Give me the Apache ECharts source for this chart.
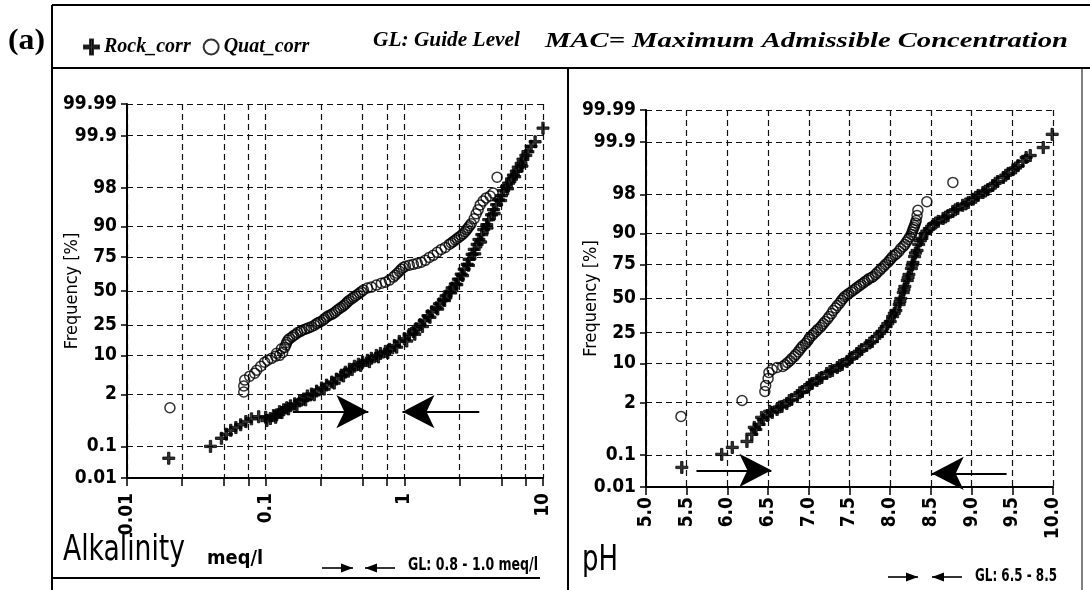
<!DOCTYPE html>
<html><head><meta charset="utf-8">
<script src="https://cdn.jsdelivr.net/npm/echarts@6/dist/echarts.min.js"></script>
<style>html,body{margin:0;padding:0;background:#fff}#c{width:1090px;height:590px}</style>
</head><body><div id="c"></div>
<script>
// ---------- data ----------
const freqTicks = [0.01, 0.1, 2, 10, 25, 50, 75, 90, 98, 99.9, 99.99];
const freqTickLabels = ['0.01', '0.1', '2', '10', '25', '50', '75', '90', '98', '99.9', '99.99'];
const alkGridValues = [0.01, 0.025, 0.05, 0.075, 0.1, 0.25, 0.5, 0.75, 1, 2.5, 5, 7.5, 10];
const alkTickLabels = [0.01, 0.1, 1, 10];
const phMin = 5.0, phMax = 10.0, phStep = 0.5;

// [alkalinity meq/l, cumulative frequency %]
const alkRock = [
[0.02,0.044],[0.04,0.10],[0.048,0.17],[0.052,0.22],[0.056,0.28],[0.061,0.33],[0.066,0.39],[0.072,0.47],[0.079,0.55],[0.089,0.62],[0.1,0.60],
[0.102,0.50],[0.108,0.56],[0.114,0.66],[0.120,0.69],[0.126,0.82],[0.135,0.91],[0.142,1.01],[0.151,1.12],[0.162,1.24],[0.176,1.44],[0.188,1.59],[0.20,1.85],[0.214,2.03],[0.233,2.33],[0.253,2.69],[0.275,3.07],[0.30,3.51],[0.324,3.99],[0.352,4.72],[0.376,5.33],[0.402,6.0],[0.437,6.73],[0.467,7.26],[0.50,7.82],[0.542,8.41],[0.579,9.03],[0.629,10.0],[0.673,10.7],[0.731,11.5],[0.78,12.3],[0.85,13.9],[0.92,15.8],[1.0,17.2],[1.085,19.3],[1.16,21.0],[1.22,22.7],[1.30,25.2],[1.39,27.7],[1.48,31.1],[1.58,34.0],[1.70,36.9],[1.79,39.9],[1.91,43.0],[2.0,46.1],[2.11,49.2],[2.21,52.4],[2.33,55.5],[2.45,59.3],[2.57,63.1],[2.70,66.8],[2.84,70.2],[2.93,73.6],[3.08,76.7],[3.19,79.6],[3.35,82.3],[3.45,84.7],[3.62,86.9],[3.74,88.9],[3.93,90.6],[4.06,92.2],[4.26,93.5],[4.40,94.7],[4.63,95.7],[4.78,96.5],[5.02,97.1],[5.20,97.7],[5.45,98.1],[5.65,98.4],[5.93,98.7],[6.12,98.94],[6.42,99.14],[6.63,99.31],[6.95,99.44],[7.17,99.56],[7.52,99.65],[7.78,99.72],[8.2,99.80],[8.77,99.85],[10.0,99.94],
[0.118,0.60],[0.131,0.78],[0.146,0.95],[0.168,1.18],[0.194,1.52],[0.224,1.95],[0.264,2.55],[0.312,3.35],[0.364,4.55],[0.42,5.9],[0.485,6.95],[0.56,8.0],[0.65,9.5],[0.76,11.0],[0.88,13.2],[1.04,16.0],[1.19,19.5],[1.35,24.0],[1.53,30.0],[1.74,36.0],[1.95,42.5],[2.16,48.5],[2.39,55.0],[2.63,62.0],[2.90,69.5],[3.22,77.0],[3.55,83.5],[3.95,89.5],[4.45,93.8],[4.95,96.4],[5.55,97.9],[6.25,98.85],[7.05,99.35]
];
const alkQuat = [
[0.0204,1.01],[0.0695,2.23],[0.0695,2.94],[0.0706,3.82],[0.0767,4.52],[0.0833,5.11],[0.0862,5.76],[0.0921,6.73],[0.0984,7.82],[0.1034,8.41],[0.1104,9.03],[0.118,9.70],[0.126,10.03],[0.1326,11.1],[0.137,13.1],[0.1416,15.3],[0.1488,17.2],[0.159,18.8],[0.170,20.4],[0.1816,21.6],[0.197,22.7],[0.214,23.9],[0.2328,25.8],[0.2487,27.1],[0.2657,29.1],[0.2839,31.1],[0.3034,32.5],[0.324,34.7],[0.3465,36.9],[0.370,39.1],[0.389,41.4],[0.4156,43.8],[0.444,46.1],[0.4746,48.4],[0.507,50.8],[0.542,52.4],[0.579,53.1],[0.629,54.7],[0.683,56.2],[0.730,57.0],[0.780,58.6],[0.833,60.9],[0.890,63.8],[0.951,66.8],[1.017,68.9],[1.086,69.6],[1.161,70.2],[1.240,70.9],[1.325,71.6],[1.416,72.9],[1.513,74.8],[1.616,76.1],[1.727,77.9],[1.845,79.6],[1.972,80.7],[2.107,82.3],[2.251,83.7],[2.406,85.2],[2.571,86.5],[2.747,88.1],[2.887,89.6],[3.034,90.97],[3.188,92.46],[3.296,93.76],[3.407,94.67],[3.522,95.66],[3.701,96.34],[3.890,96.79],[4.156,97.06],[4.368,97.43],[4.668,98.82],
[0.12,10.8],[0.13,12.5],[0.14,14.2],[0.145,16.5],[0.155,18.0],[0.165,19.5],[0.178,21.0],[0.19,22.2],[0.205,23.3],[0.225,24.8],[0.24,26.5],[0.26,28.0],[0.275,30.2],[0.295,31.8],[0.315,33.5],[0.335,35.8],[0.36,38.0],[0.38,40.2],[0.40,42.6],[0.43,45.0],[0.46,47.2],[0.49,49.5],[0.86,62.3],[0.92,65.2],[0.98,67.9],[2.18,83.0],[2.33,84.5],[2.49,85.9],[2.66,87.3],[2.82,88.9],[2.96,90.3]
];
// [pH, cumulative frequency %]
const phRock = [
[5.44,0.043],[5.93,0.105],[6.06,0.165],[6.24,0.24],[6.30,0.37],[6.35,0.49],[6.39,0.65],[6.44,0.85],[6.49,1.05],[6.55,1.23],[6.61,1.43],[6.67,1.66],[6.73,1.92],[6.79,2.32],[6.86,2.79],[6.92,3.33],[6.98,3.96],[7.04,4.68],[7.10,5.29],[7.16,5.96],[7.22,6.96],[7.29,7.78],[7.35,8.68],[7.41,9.65],[7.47,10.7],[7.53,12.2],[7.59,13.9],[7.65,15.7],[7.71,17.7],[7.78,19.8],[7.84,22.7],[7.90,25.8],[7.95,29.0],[8.00,32.5],[8.03,36.1],[8.07,40.6],[8.11,45.3],[8.13,50.0],[8.16,54.7],[8.18,59.4],[8.21,63.9],[8.23,68.2],[8.26,72.3],[8.28,76.1],[8.30,79.6],[8.33,82.8],[8.35,85.7],[8.39,88.2],[8.43,90.0],[8.48,91.6],[8.53,92.8],[8.59,93.6],[8.65,94.3],[8.71,94.9],[8.77,95.7],[8.83,96.2],[8.89,96.7],[8.96,97.1],[9.02,97.5],[9.08,97.9],[9.14,98.17],[9.20,98.42],[9.26,98.71],[9.32,98.95],[9.39,99.15],[9.45,99.32],[9.51,99.45],[9.57,99.56],[9.63,99.66],[9.67,99.73],[9.72,99.76],[9.88,99.855],[9.99,99.94],
[6.33,0.55],[6.42,0.95],[6.52,1.30],[6.64,1.62],[6.76,2.20],[6.89,3.15],[7.01,4.45],[7.13,5.75],[7.26,7.50],[7.38,9.30],[7.50,11.6],[7.62,14.9],[7.75,19.0],[7.87,24.5],[7.97,31.0],[8.05,38.5],[8.12,47.5],[8.17,57.0],[8.22,66.0],[8.27,74.5],[8.31,81.5],[8.37,87.3],[8.45,90.8],[8.56,93.2],[8.68,94.6],[8.80,96.0],[8.93,96.9],[9.05,97.7],[9.17,98.3],[9.29,98.85],[9.42,99.25],[9.54,99.50]
];
const phQuat = [
[5.43,1.0],[6.18,2.21],[6.46,3.33],[6.47,4.31],[6.50,5.73],[6.51,7.22],[6.55,8.07],[6.61,8.68],[6.68,9.0],[6.74,10.3],[6.79,11.8],[6.84,13.5],[6.89,15.7],[6.93,17.7],[6.98,19.8],[7.01,22.1],[7.06,24.5],[7.11,27.1],[7.16,29.7],[7.20,32.5],[7.25,36.1],[7.30,40.6],[7.35,44.5],[7.40,48.4],[7.44,51.6],[7.49,53.9],[7.54,56.3],[7.59,58.6],[7.64,60.9],[7.69,63.1],[7.74,65.3],[7.79,66.8],[7.84,69.6],[7.89,72.3],[7.94,74.9],[7.99,77.3],[8.03,79.6],[8.08,81.3],[8.13,83.8],[8.18,85.7],[8.22,87.8],[8.26,89.7],[8.28,91.3],[8.30,92.5],[8.32,93.8],[8.33,94.9],[8.34,95.9],[8.45,97.2],[8.77,98.9],
[6.71,9.6],[6.77,11.0],[6.82,12.6],[6.87,14.6],[6.91,16.7],[6.96,18.7],[7.00,21.0],[7.04,23.3],[7.09,25.8],[7.14,28.4],[7.18,31.1],[7.23,34.3],[7.28,38.3],[7.33,42.5],[7.38,46.4],[7.42,50.0],[7.47,52.8],[7.52,55.1],[7.57,57.4],[7.62,59.8],[7.67,62.0],[7.72,64.2],[7.77,66.0],[7.82,68.2],[7.87,71.0],[7.92,73.6],[7.97,76.1],[8.01,78.4],[8.06,80.5],[8.11,82.5],[8.16,84.8],[8.20,86.8],[8.24,88.8],[8.27,90.5],[8.29,91.9],[8.31,93.2]
];
// guide-level arrows: [fromX, fromFreq, toX, toFreq]
const alkGuideArrows = [[0.157, 0.82, 0.55, 0.82], [3.47, 0.82, 0.97, 0.82]];
const phGuideArrows = [[5.62, 0.035, 6.54, 0.035], [9.43, 0.028, 8.51, 0.028]];

// ---------- probability (normal quantile) transform ----------
function probit(p) {
  const a=[-3.969683028665376e+01,2.209460984245205e+02,-2.759285104469687e+02,1.383577518672690e+02,-3.066479806614716e+01,2.506628277459239e+00];
  const b=[-5.447609879822406e+01,1.615858368580409e+02,-1.556989798598866e+02,6.680131188771972e+01,-1.328068155288572e+01];
  const c=[-7.784894002430293e-03,-3.223964580411365e-01,-2.400758277161838e+00,-2.549732539343734e+00,4.374664141464968e+00,2.938163982698783e+00];
  const d=[7.784695709041462e-03,3.224671290700398e-01,2.445134137142996e+00,3.754408661907416e+00];
  const pl = 0.02425; let q, r;
  if (p < pl) { q = Math.sqrt(-2*Math.log(p)); return (((((c[0]*q+c[1])*q+c[2])*q+c[3])*q+c[4])*q+c[5])/((((d[0]*q+d[1])*q+d[2])*q+d[3])*q+1); }
  if (p <= 1-pl) { q = p-0.5; r = q*q; return (((((a[0]*r+a[1])*r+a[2])*r+a[3])*r+a[4])*r+a[5])*q/(((((b[0]*r+b[1])*r+b[2])*r+b[3])*r+b[4])*r+1); }
  q = Math.sqrt(-2*Math.log(1-p)); return -(((((c[0]*q+c[1])*q+c[2])*q+c[3])*q+c[4])*q+c[5])/((((d[0]*q+d[1])*q+d[2])*q+d[3])*q+1);
}
const zf = pct => probit(pct / 100);
const freqZ = freqTicks.map(zf);
const zMin = freqZ[0], zMax = freqZ[freqZ.length - 1];
const freqLabel = v => { for (let i = 0; i < freqZ.length; i++) if (Math.abs(freqZ[i] - v) < 1e-6) return freqTickLabels[i]; return ''; };

// ---------- styles ----------
const NARROW = '"Liberation Sans Narrow", "DejaVu Sans Condensed", "Arial Narrow", sans-serif';
const SERIF = '"Liberation Serif", "DejaVu Serif", serif';
const gridLine = { show: true, lineStyle: { color: '#111', width: 1.2, type: [6, 4] } };
const axisLineS = { show: true, onZero: false, lineStyle: { color: '#000', width: 2 } };
const plusPath = 'path://M4,0h2v4h4v2h-4v4h-2v-4h-4v-2h4z';
const rockStyle = { color: '#000', borderColor: '#000', borderWidth: 1 };
const quatStyle = { color: 'rgba(255,255,255,0)', borderColor: '#000', borderWidth: 1.5 };

function yAxisCfg(gi) {
  return {
    type: 'value', gridIndex: gi, min: zMin, max: zMax,
    name: 'Frequency [%]', nameLocation: 'middle', nameRotate: 90, nameGap: 46, nameMoveOverlap: false,
    nameTextStyle: { fontFamily: NARROW, fontSize: 18, color: '#000' },
    axisLine: axisLineS,
    axisTick: { show: true, customValues: freqZ, length: 6, lineStyle: { color: '#000', width: 1.5 } },
    axisLabel: { customValues: freqZ, formatter: freqLabel, fontFamily: NARROW, fontWeight: 'bold', fontSize: 19, color: '#000', margin: 10 },
    splitLine: gridLine
  };
}

const mctx = document.createElement('canvas').getContext('2d');
function fitText(str, fam, size, weight, fstyle, left, cy, width) {
  mctx.font = `${fstyle} ${weight} ${size}px ${fam}`;
  const w = mctx.measureText(str).width || 1;
  return { type: 'text', x: left, y: cy, scaleX: width / w, silent: true, z: 10,
    style: { text: str, fontFamily: fam, fontSize: size, fontWeight: weight, fontStyle: fstyle, fill: '#000',
      align: 'left', verticalAlign: 'middle', textAlign: 'left', textVerticalAlign: 'middle' } };
}
function hline(x1, y1, x2, y2, w) {
  return { type: 'line', silent: true, shape: { x1, y1, x2, y2 }, style: { stroke: '#000', lineWidth: w || 2 } };
}
function keyArrow(x0, x1, y, dir) {
  const tip = dir > 0 ? x1 : x0, base = dir > 0 ? x1 - 12 : x0 + 12;
  return [
    hline(x0, y, x1, y, 1.6),
    { type: 'polygon', silent: true, shape: { points: [[base, y - 4.5], [tip, y], [base, y + 4.5]] }, style: { fill: '#000' } }
  ];
}

const arrowMark = arr => ({
  silent: true, animation: false, symbol: ['none', 'arrow'], symbolSize: [25, 32],
  lineStyle: { color: '#000', width: 2, type: 'solid' }, label: { show: false }, emphasis: { disabled: true },
  data: arr.map(a => [{ coord: [a[0], zf(a[1])] }, { coord: [a[2], zf(a[3])] }])
});

const chart = echarts.init(document.getElementById('c'), null, { renderer: 'canvas' });
chart.setOption({
  animation: false,
  backgroundColor: '#fff',
  legend: {
    data: ['Rock_corr', 'Quat_corr'], left: 78, top: 32, itemWidth: 15, itemHeight: 15, itemGap: 12,
    selectedMode: false,
    textStyle: { fontFamily: SERIF, fontStyle: 'italic', fontWeight: 'bold', fontSize: 20, color: '#000' }
  },
  grid: [
    { left: 127, top: 104, width: 416, height: 374, containLabel: false, outerBoundsMode: 'none' },
    { left: 646, top: 110, width: 407, height: 377, containLabel: false, outerBoundsMode: 'none' }
  ],
  xAxis: [
    { type: 'log', logBase: 10, gridIndex: 0, min: 0.01, max: 10,
      axisLine: axisLineS,
      axisTick: { show: true, customValues: alkGridValues, length: 8, lineStyle: { color: '#000', width: 1.5 } },
      axisLabel: { customValues: alkTickLabels, rotate: 90, margin: 15, fontFamily: NARROW, fontWeight: 'bold', fontSize: 19, color: '#000',
        formatter: v => { for (const t of alkTickLabels) if (Math.abs(Math.log10(t) - Math.log10(v)) < 1e-6) return String(t); return ''; } },
      splitLine: gridLine },
    { type: 'value', gridIndex: 1, min: phMin, max: phMax, interval: phStep,
      axisLine: axisLineS,
      axisTick: { show: true, length: 8, lineStyle: { color: '#000', width: 1.5 } },
      axisLabel: { rotate: 90, margin: 10, fontFamily: NARROW, fontWeight: 'bold', fontSize: 19, color: '#000', formatter: v => v.toFixed(1) },
      splitLine: gridLine }
  ],
  yAxis: [yAxisCfg(0), yAxisCfg(1)],
  series: [
    { name: 'Rock_corr', type: 'scatter', xAxisIndex: 0, yAxisIndex: 0, symbol: plusPath, symbolSize: 12,
      itemStyle: rockStyle, data: alkRock.map(d => [d[0], zf(d[1])]), markLine: arrowMark(alkGuideArrows) },
    { name: 'Quat_corr', type: 'scatter', xAxisIndex: 0, yAxisIndex: 0, symbol: 'circle', symbolSize: 10,
      itemStyle: quatStyle, data: alkQuat.map(d => [d[0], zf(d[1])]) },
    { name: 'Rock_corr', type: 'scatter', xAxisIndex: 1, yAxisIndex: 1, symbol: plusPath, symbolSize: 12,
      itemStyle: rockStyle, data: phRock.map(d => [d[0], zf(d[1])]), markLine: arrowMark(phGuideArrows) },
    { name: 'Quat_corr', type: 'scatter', xAxisIndex: 1, yAxisIndex: 1, symbol: 'circle', symbolSize: 10,
      itemStyle: quatStyle, data: phQuat.map(d => [d[0], zf(d[1])]) }
  ],
  graphic: { elements: [
    hline(52, 5, 1090, 5, 2), hline(52, 5, 52, 590, 2), hline(52, 68, 1090, 68, 2),
    hline(568, 68, 568, 590, 2), hline(52, 578, 540, 578, 2), hline(1082, 68, 1082, 590, 1),
    fitText('(a)', SERIF, 30, 'bold', 'normal', 8, 41, 37),
    fitText('GL: Guide Level', SERIF, 21, 'bold', 'italic', 373, 41, 147),
    fitText('MAC= Maximum Admissible Concentration', SERIF, 21, 'bold', 'italic', 545, 42, 523),
    fitText('Alkalinity', NARROW, 35, 'normal', 'normal', 63, 551, 122),
    fitText('meq/l', NARROW, 20, 'bold', 'normal', 207, 559, 56),
    ...keyArrow(322, 353, 568, 1), ...keyArrow(365, 395, 568, -1),
    fitText('GL: 0.8 - 1.0 meq/l', NARROW, 17, 'bold', 'normal', 408, 566, 130),
    fitText('pH', NARROW, 35, 'normal', 'normal', 582, 561, 36),
    ...keyArrow(888, 918, 577, 1), ...keyArrow(932, 962, 577, -1),
    fitText('GL: 6.5 - 8.5', NARROW, 17, 'bold', 'normal', 975, 577, 82)
  ] }
});
</script></body></html>
